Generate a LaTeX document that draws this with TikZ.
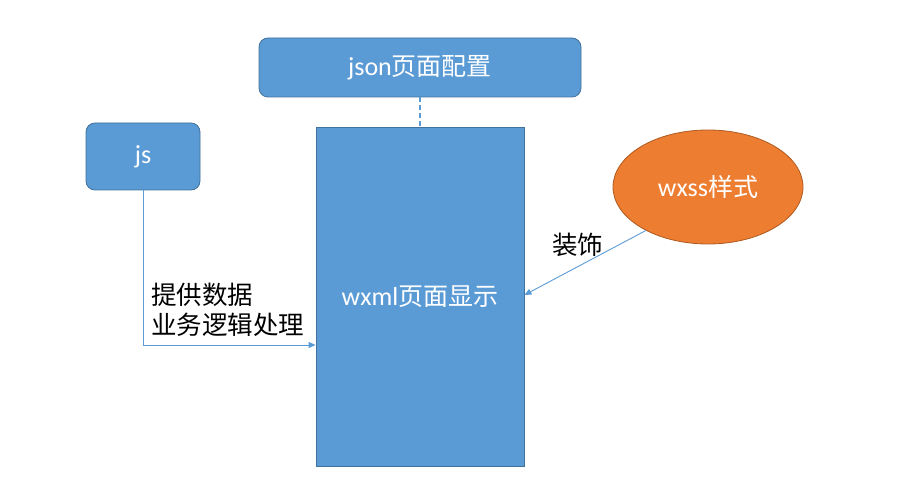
\documentclass[tikz,border=0pt]{standalone}
\usepackage{fontspec}
\setmainfont{Carlito}
\newfontfamily\cjk{Noto Sans CJK SC}
\usetikzlibrary{shapes.geometric,arrows.meta}
\definecolor{boxblue}{HTML}{5B9BD5}
\definecolor{boxedge}{HTML}{41719C}
\definecolor{ovalorange}{HTML}{ED7D31}
\definecolor{ovaledge}{HTML}{AE5A21}
\tikzset{
  bluebox/.style={draw=boxedge, line width=0.8pt, fill=boxblue, text=white, font=\fontsize{26}{30}\selectfont},
  link/.style={draw=boxblue, line width=0.9pt, -{Triangle[length=7pt,width=6pt]}},
  lbl/.style={font=\cjk\fontsize{25.5}{30}\selectfont, text=black, inner sep=0pt, align=left}
}
\begin{document}
\begin{tikzpicture}[x=1pt,y=-1pt]
\useasboundingbox (0,0) rectangle (907,494);
\node[bluebox, rounded corners=9pt, minimum width=322pt, minimum height=59pt] (json) at (420,67.5) {json{\cjk\fontsize{25}{30}\selectfont 页面配置}};
\node[bluebox, rounded corners=9pt, minimum width=114pt, minimum height=67pt] (js) at (143,156.5) {js};
\node[bluebox, minimum width=208pt, minimum height=339pt] (wxml) at (420,296.5) {wxml{\cjk\fontsize{25}{30}\selectfont 页面显示}};
\node[ellipse, draw=ovaledge, line width=0.8pt, fill=ovalorange, text=white, minimum width=190pt, minimum height=114pt, font=\fontsize{26}{30}\selectfont] (wxss) at (708,187) {wxss{\cjk\fontsize{25}{30}\selectfont 样式}};
\draw[boxblue, line width=1.3pt, dash pattern=on 5pt off 3pt] (json.south) -- (wxml.north);
\coordinate (bend) at (143,345);
\draw[link] (js.south) -- (bend) -- (wxml.west |- bend);
\draw[link] (wxss.-145) -- (wxml.east |- 0,295);
\node[lbl, anchor=west] (l1) at (151,310) {提供数据\\业务逻辑处理};
\node[lbl, anchor=west] (l2) at (552,245) {装饰};
\end{tikzpicture}
\end{document}
